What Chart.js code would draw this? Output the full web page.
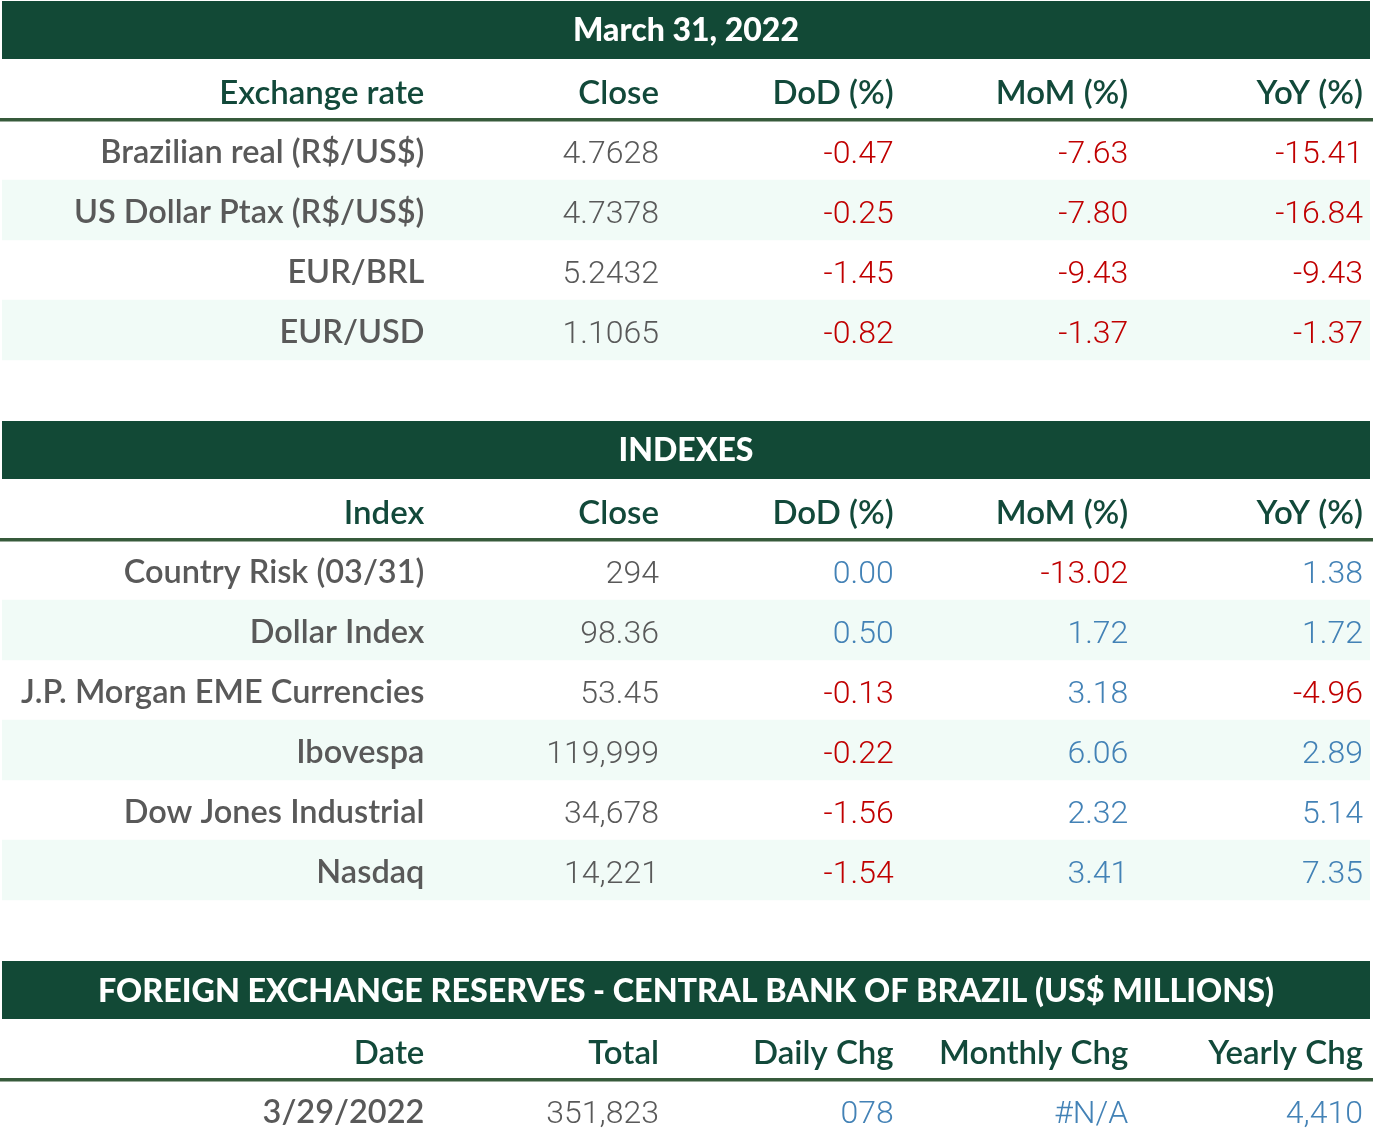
<!DOCTYPE html>
<html>
<head>
<meta charset="utf-8">
<script src="https://cdn.jsdelivr.net/npm/chart.js@4.4.1/dist/chart.umd.min.js"></script>
<style>
  html, body { margin: 0; padding: 0; background: #ffffff; }
  #wrap { position: relative; width: 1373px; height: 1142px; }
</style>
</head>
<body>
<div id="wrap"><canvas id="c"></canvas></div>
<script>
// ---------- data ----------
const fxTitle = "March 31, 2022";
const fxHeaders = ["Exchange rate", "Close", "DoD (%)", "MoM (%)", "YoY (%)"];
const fxLabels = ["Brazilian real (R$/US$)", "US Dollar Ptax (R$/US$)", "EUR/BRL", "EUR/USD"];
const fxClose = ["4.7628", "4.7378", "5.2432", "1.1065"];
const fxDoD = [-0.47, -0.25, -1.45, -0.82];
const fxMoM = [-7.63, -7.80, -9.43, -1.37];
const fxYoY = [-15.41, -16.84, -9.43, -1.37];

const idxTitle = "INDEXES";
const idxHeaders = ["Index", "Close", "DoD (%)", "MoM (%)", "YoY (%)"];
const idxLabels = ["Country Risk (03/31)", "Dollar Index", "J.P. Morgan EME Currencies", "Ibovespa", "Dow Jones Industrial", "Nasdaq"];
const idxClose = ["294", "98.36", "53.45", "119,999", "34,678", "14,221"];
const idxDoD = [0.00, 0.50, -0.13, -0.22, -1.56, -1.54];
const idxMoM = [-13.02, 1.72, 3.18, 6.06, 2.32, 3.41];
const idxYoY = [1.38, 1.72, -4.96, 2.89, 5.14, 7.35];

const resTitle = "FOREIGN EXCHANGE RESERVES - CENTRAL BANK OF BRAZIL (US$ MILLIONS)";
const resHeaders = ["Date", "Total", "Daily Chg", "Monthly Chg", "Yearly Chg"];
const resDate = ["3/29/2022"];
const resTotal = ["351,823"];
const resDaily = ["078"];
const resMonthly = ["#N/A"];
const resYearly = ["4,410"];

// ---------- layout of rows (category axis) ----------
const rowKeys = [];
const rowKind = [];   // 'title','head','data','gap'
const rowCells = [];
const rowTitle = [];
const rowShade = [];
const rowSqueeze = [];

const GRAY = "#595959", RED = "#C00000", BLUE = "#4382B6";
function pct(v) { return { text: v.toFixed(2), color: v < 0 ? RED : BLUE }; }

function addRow(kind, opts) {
  rowKeys.push("r" + rowKeys.length);
  rowKind.push(kind);
  rowCells.push(opts.cells || null);
  rowTitle.push(opts.title || null);
  rowShade.push(!!opts.shade);
  rowSqueeze.push(!!opts.squeeze);
}

function addTable(title, headers, n, cellFn, squeeze) {
  addRow('title', { title: title, squeeze: squeeze });
  addRow('head', { cells: headers.map(h => ({ text: h })), squeeze: squeeze });
  for (let i = 0; i < n; i++) addRow('data', { cells: cellFn(i), shade: i % 2 === 1, squeeze: squeeze });
}

addTable(fxTitle, fxHeaders, fxLabels.length, i => [
  { text: fxLabels[i], color: GRAY }, { text: fxClose[i], color: GRAY },
  pct(fxDoD[i]), pct(fxMoM[i]), pct(fxYoY[i])]);
addRow('gap', {});
addTable(idxTitle, idxHeaders, idxLabels.length, i => [
  { text: idxLabels[i], color: GRAY }, { text: idxClose[i], color: GRAY },
  pct(idxDoD[i]), pct(idxMoM[i]), pct(idxYoY[i])]);
addRow('gap', {});
addTable(resTitle, resHeaders, resDate.length, i => [
  { text: resDate[i], color: GRAY }, { text: resTotal[i], color: GRAY },
  { text: resDaily[i], color: BLUE }, { text: resMonthly[i], color: BLUE }, { text: resYearly[i], color: BLUE }], true);

const X_MIN = -0.8, X_MAX = 5.03;
const titleBands = rowKind.map(k => k === 'title' ? [X_MIN, X_MAX] : null);
const shadeBands = rowShade.map(s => s ? [X_MIN, X_MAX] : null);

// ---------- text plugin ----------
const tablePlugin = {
  id: 'tableText',
  afterDatasetsDraw(chart) {
    const ctx = chart.ctx, xs = chart.scales.x, ys = chart.scales.y;
    ctx.save();
    rowKind.forEach((k, i) => {
      if (k !== 'head') return;
      const yb = (ys.getPixelForValue(i) + ys.getPixelForValue(i + 1)) / 2;
      ctx.fillStyle = "#365A3B";
      ctx.fillRect(0, yb - 2, chart.width, 3.5);
    });
    rowKind.forEach((k, i) => {
      const yc = ys.getPixelForValue(i);
      const sq = rowSqueeze[i];
      if (k === 'title') {
        ctx.font = "900 32px Lato, 'Open Sans', sans-serif";
        ctx.fillStyle = "#ffffff";
        ctx.textAlign = "center";
        ctx.textBaseline = "alphabetic";
        const cx = (xs.getPixelForValue(X_MIN) + xs.getPixelForValue(X_MAX)) / 2;
        if (sq) {
          const w = ctx.measureText(rowTitle[i]).width;
          const target = 1176;
          ctx.save();
          ctx.translate(cx, yc + 12);
          ctx.scale(target / w, 1);
          ctx.fillText(rowTitle[i], 0, 0);
          ctx.restore();
        } else {
          ctx.fillText(rowTitle[i], cx, yc + 11);
        }
      } else if (k === 'head' || k === 'data') {
        rowCells[i].forEach((c, j) => {
          const x = xs.getPixelForValue(j + 1);
          ctx.textAlign = "right";
          ctx.textBaseline = "alphabetic";
          if (k === 'head') {
            ctx.font = "600 33px Lato, 'Open Sans', sans-serif";
            ctx.fillStyle = "#12493A";
            ctx.fillText(c.text, x, yc + 14);
          } else if (j === 0) {
            ctx.font = "600 32.5px Lato, 'Open Sans', sans-serif";
            ctx.fillStyle = c.color;
            ctx.fillText(c.text, x, yc + 13);
          } else {
            ctx.font = "300 32px Roboto, 'Liberation Sans', sans-serif";
            ctx.fillStyle = c.color;
            ctx.fillText(c.text, x, yc + 13);
          }
        });
      }
    });
    ctx.restore();
  }
};

new Chart(document.getElementById('c'), {
  type: 'bar',
  data: {
    labels: rowKeys,
    datasets: [
      { label: 'stripes', data: shadeBands, backgroundColor: '#F1FBF7', grouped: false,
        barPercentage: 1, categoryPercentage: 1, borderWidth: 0 },
      { label: 'titles', data: titleBands, backgroundColor: '#124936', grouped: false,
        barPercentage: 0.97, categoryPercentage: 1, borderWidth: 0 }
    ]
  },
  options: {
    indexAxis: 'y',
    responsive: true,
    maintainAspectRatio: false,
    animation: false,
    layout: { padding: { left: 2, right: 3, top: 0, bottom: 2 } },
    plugins: { legend: { display: false }, tooltip: { enabled: false } },
    scales: {
      x: { type: 'linear', min: X_MIN, max: X_MAX, display: false },
      y: { type: 'category', display: false, offset: true }
    }
  },
  plugins: [tablePlugin]
});
</script>
</body>
</html>
